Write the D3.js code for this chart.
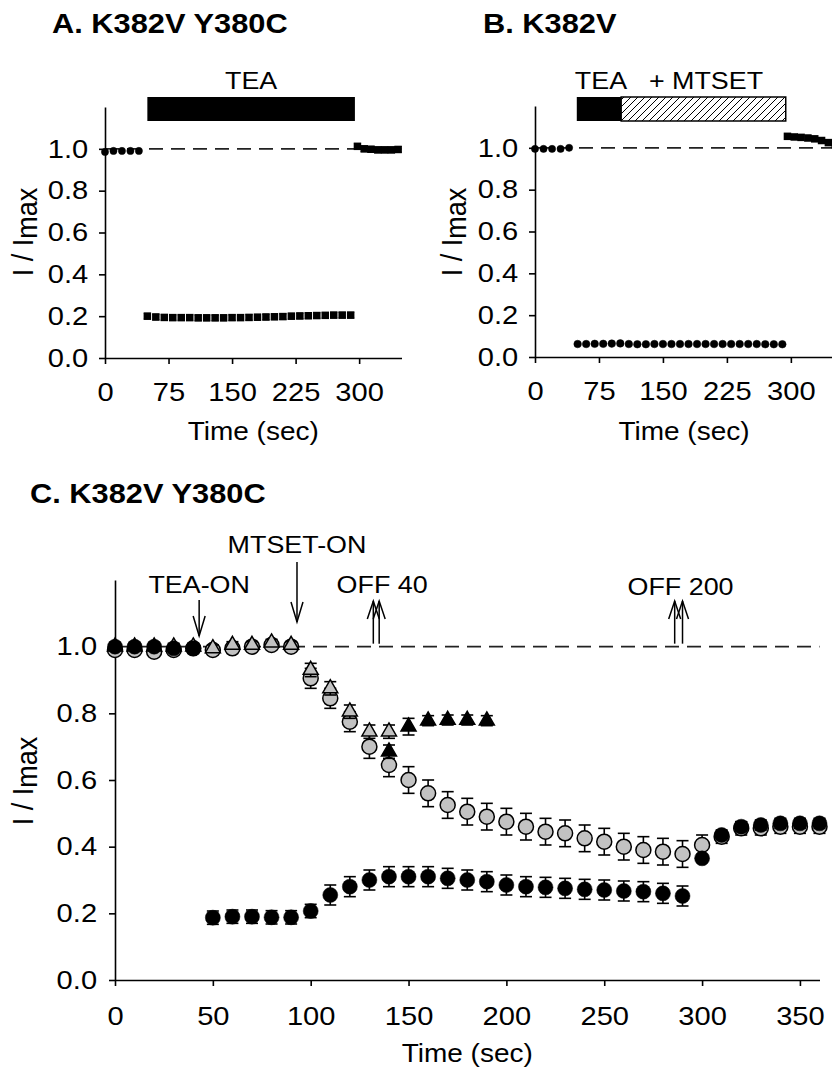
<!DOCTYPE html>
<html>
<head>
<meta charset="utf-8">
<script src="https://cdn.jsdelivr.net/npm/d3@7"></script>
<style>
  body { margin: 0; background: #fff; }
  text { font-family: "Liberation Sans", Arial, sans-serif; fill: #000; }
</style>
</head>
<body>
<div id="chart"></div>
<script>
// ---- Panel A : K382V Y380C, TEA block ----
const timeA_pre = [0, 10, 20, 30, 40];
const valA_pre = [0.985, 0.99, 0.99, 0.99, 0.99];
const timeA_tea = [50, 60, 70, 80, 90, 100, 110, 120, 130, 140, 150, 160, 170, 180, 190, 200, 210, 220, 230, 240, 250, 260, 270, 280, 290];
const valA_tea = [0.20, 0.196, 0.194, 0.193, 0.193, 0.193, 0.192, 0.192, 0.192, 0.192, 0.193, 0.193, 0.194, 0.195, 0.196, 0.197, 0.198, 0.20, 0.201, 0.202, 0.203, 0.204, 0.205, 0.205, 0.205];
const timeA_post = [298, 306, 314, 322, 330, 338, 346];
const valA_post = [1.012, 1.0, 0.998, 0.995, 0.995, 0.995, 0.997];
const barA = { start: 50, end: 295, label: "TEA" };

// ---- Panel B : K382V, TEA then TEA + MTSET ----
const timeB_pre = [0, 10, 20, 30, 40];
const valB_pre = [0.995, 0.995, 0.995, 0.995, 1.0];
const timeB_mid = [50, 60, 70, 80, 90, 100, 110, 120, 130, 140, 150, 160, 170, 180, 190, 200, 210, 220, 230, 240, 250, 260, 270, 280, 290];
const valB_mid = [0.062, 0.062, 0.063, 0.063, 0.064, 0.065, 0.062, 0.061, 0.061, 0.062, 0.062, 0.062, 0.062, 0.062, 0.062, 0.062, 0.062, 0.062, 0.062, 0.062, 0.062, 0.062, 0.061, 0.061, 0.061];
const timeB_post = [296, 304, 312, 320, 328, 336, 344, 352];
const valB_post = [1.055, 1.052, 1.05, 1.047, 1.043, 1.035, 1.025, 1.015];
const barB = { teaStart: 49, mtsetStart: 101, end: 294 };

// ---- Panel C : K382V Y380C, MTSET protocol ----
const timeC = [0, 10, 20, 30, 40, 50, 60, 70, 80, 90, 100, 110, 120, 130, 140, 150, 160, 170, 180, 190, 200, 210, 220, 230, 240, 250, 260, 270, 280, 290, 300, 310, 320, 330, 340, 350, 360];
const grayCircle = [0.99, 0.99, 0.985, 0.99, 0.995, 0.99, 0.995, 1.0, 1.005, 1.0, 0.905, 0.845, 0.775, 0.70, 0.645, 0.60, 0.56, 0.525, 0.505, 0.49, 0.475, 0.46, 0.445, 0.44, 0.425, 0.415, 0.40, 0.39, 0.385, 0.378, 0.405, 0.43, 0.455, 0.455, 0.46, 0.46, 0.46];
const grayCircleErr = [0.01, 0.01, 0.01, 0.01, 0.01, 0.01, 0.01, 0.01, 0.01, 0.01, 0.03, 0.03, 0.03, 0.035, 0.035, 0.04, 0.04, 0.04, 0.04, 0.04, 0.04, 0.04, 0.04, 0.04, 0.04, 0.04, 0.04, 0.04, 0.04, 0.04, 0.03, 0.02, 0.02, 0.02, 0.02, 0.02, 0.02];
const blackCircle = [1.0, 1.0, 1.0, 0.995, 0.995, 0.187, 0.19, 0.19, 0.188, 0.188, 0.207, 0.255, 0.28, 0.30, 0.31, 0.31, 0.31, 0.305, 0.30, 0.295, 0.285, 0.28, 0.278, 0.275, 0.272, 0.27, 0.267, 0.265, 0.26, 0.252, 0.365, 0.435, 0.46, 0.465, 0.47, 0.47, 0.47];
const blackCircleErr = [0.01, 0.01, 0.01, 0.01, 0.01, 0.02, 0.02, 0.02, 0.02, 0.02, 0.02, 0.03, 0.03, 0.03, 0.03, 0.03, 0.03, 0.03, 0.03, 0.03, 0.03, 0.03, 0.03, 0.03, 0.03, 0.03, 0.03, 0.03, 0.03, 0.03, 0.01, 0.01, 0.015, 0.015, 0.015, 0.015, 0.015];
const timeTriGray = [0, 10, 20, 30, 40, 50, 60, 70, 80, 90, 100, 110, 120, 130, 140];
const grayTri = [1.0, 1.0, 1.0, 1.0, 1.0, 0.995, 1.005, 1.005, 1.012, 1.005, 0.93, 0.875, 0.805, 0.745, 0.745];
const grayTriErr = [0.01, 0.01, 0.01, 0.01, 0.01, 0.01, 0.01, 0.01, 0.01, 0.01, 0.02, 0.02, 0.02, 0.02, 0.02];
const timeTriBlack = [140, 150, 160, 170, 180, 190];
const blackTri = [0.685, 0.76, 0.778, 0.78, 0.78, 0.778];
const blackTriErr = [0.02, 0.025, 0.015, 0.015, 0.015, 0.015];
const notes = [
  { t: 43, label: "TEA-ON", dir: "down", arrows: [43] },
  { t: 93, label: "MTSET-ON", dir: "down", arrows: [93] },
  { t: 136.5, label: "OFF 40", dir: "up", arrows: [132, 135] },
  { t: 289, label: "OFF 200", dir: "up", arrows: [286, 290] }
];

const yTicks = [0, 0.2, 0.4, 0.6, 0.8, 1.0];
const xTicksAB = [0, 75, 150, 225, 300];
const xTicksC = [0, 50, 100, 150, 200, 250, 300, 350];

const SX = 1.12;   // figure text is a little wide
const GRAY = "#c2c2c2";

const svg = d3.select("#chart").append("svg")
  .attr("width", 832)
  .attr("height", 1070);

const defs = svg.append("defs");
const hatch = defs.append("pattern")
  .attr("id", "hatch")
  .attr("patternUnits", "userSpaceOnUse")
  .attr("width", 7)
  .attr("height", 7);
hatch.append("rect").attr("width", 7).attr("height", 7).attr("fill", "#fff");
hatch.append("path")
  .attr("d", "M-1,1 l2,-2 M0,7 l7,-7 M6,8 l2,-2")
  .attr("stroke", "#000")
  .attr("stroke-width", 1);

function label(x, y, str, size, anchor, weight) {
  return svg.append("text")
    .attr("transform", `translate(${x},${y}) scale(${SX},1)`)
    .attr("text-anchor", anchor || "middle")
    .attr("font-size", size)
    .attr("font-weight", weight || "normal")
    .text(str);
}

function yTitle(x, y) {
  const t = svg.append("text")
    .attr("transform", `translate(${x},${y}) scale(${SX},1) rotate(-90)`)
    .attr("text-anchor", "middle")
    .attr("font-size", 27);
  t.append("tspan").text("I / I");
  t.append("tspan").attr("dy", 4).text("max");
}

function drawAxes(x, y, xTicks, xPad, yPad) {
  const ax = svg.append("g")
    .attr("transform", `translate(0,${y.range()[0]})`)
    .call(d3.axisBottom(x).tickValues(xTicks).tickSize(6).tickSizeOuter(0).tickPadding(xPad));
  const ay = svg.append("g")
    .attr("transform", `translate(${x.range()[0]},0)`)
    .call(d3.axisLeft(y).tickValues(yTicks).tickFormat(d3.format(".1f")).tickSize(6).tickSizeOuter(0).tickPadding(yPad));
  [ax, ay].forEach(a => {
    a.attr("font-size", null).attr("font-family", null);
    a.selectAll("path, line").attr("stroke", "#000").attr("stroke-width", 1.6);
    a.selectAll("text")
      .attr("font-size", 26)
      .attr("fill", "#000")
      .attr("transform", `scale(${SX},1)`);
  });
}

function dashedOne(x, y, t0, t1) {
  svg.append("line")
    .attr("x1", x(t0)).attr("x2", x(t1))
    .attr("y1", y(1)).attr("y2", y(1))
    .attr("stroke", "#222")
    .attr("stroke-width", 1.6)
    .attr("stroke-dasharray", "14,8");
}

function errorBars(x, y, times, vals, errs, half, width) {
  const g = svg.append("g").attr("stroke", "#000").attr("stroke-width", width);
  times.forEach((t, i) => {
    const cx = x(t), top = y(vals[i] + errs[i]), bot = y(vals[i] - errs[i]);
    g.append("line").attr("x1", cx).attr("x2", cx).attr("y1", top).attr("y2", bot);
    g.append("line").attr("x1", cx - half).attr("x2", cx + half).attr("y1", top).attr("y2", top);
    g.append("line").attr("x1", cx - half).attr("x2", cx + half).attr("y1", bot).attr("y2", bot);
  });
}

function dots(x, y, times, vals, r, fill) {
  svg.append("g").selectAll("circle")
    .data(times)
    .enter()
    .append("circle")
    .attr("cx", d => x(d))
    .attr("cy", (d, i) => y(vals[i]))
    .attr("r", r)
    .attr("fill", fill)
    .attr("stroke", "#000")
    .attr("stroke-width", fill === "#000" ? 0.5 : 1.5);
}

function squares(x, y, times, vals, s) {
  svg.append("g").selectAll("rect")
    .data(times)
    .enter()
    .append("rect")
    .attr("x", d => x(d) - s / 2)
    .attr("y", (d, i) => y(vals[i]) - s / 2)
    .attr("width", s)
    .attr("height", s)
    .attr("fill", "#000");
}

function triangles(x, y, times, vals, fill) {
  const tri = "M0,-8.7 L7.5,4.3 L-7.5,4.3 Z";
  svg.append("g").selectAll("path")
    .data(times)
    .enter()
    .append("path")
    .attr("d", tri)
    .attr("transform", (d, i) => `translate(${x(d)},${y(vals[i])})`)
    .attr("fill", fill)
    .attr("stroke", "#000")
    .attr("stroke-width", 1.5);
}

// ================= Panel A =================
const xA = d3.scaleLinear().domain([0, 350]).range([105, 401.5]);
const yA = d3.scaleLinear().domain([0, 1.2]).range([358, 107]);

label(52, 33, "A. K382V Y380C", 27.5, "start", "bold");
svg.append("rect")
  .attr("x", xA(barA.start)).attr("y", 97)
  .attr("width", xA(barA.end) - xA(barA.start)).attr("height", 24)
  .attr("fill", "#000");
label((xA(barA.start) + xA(barA.end)) / 2, 89, barA.label, 24);

dashedOne(xA, yA, 0, 350);
drawAxes(xA, yA, xTicksAB, 19, 9);
yTitle(33, 232);
label((xA.range()[0] + xA.range()[1]) / 2, 440, "Time (sec)", 25);

dots(xA, yA, timeA_pre, valA_pre, 3.6, "#000");
errorBars(xA, yA, timeA_tea, valA_tea, valA_tea.map(() => 0.013), 3.5, 1.2);
squares(xA, yA, timeA_tea, valA_tea, 7.5);
errorBars(xA, yA, timeA_post, valA_post, valA_post.map(() => 0.013), 3.5, 1.2);
squares(xA, yA, timeA_post, valA_post, 7.5);

// ================= Panel B =================
const xB = d3.scaleLinear().domain([0, 350]).range([535, 833.5]);
const yB = d3.scaleLinear().domain([0, 1.2]).range([357, 106]);

label(483, 33, "B. K382V", 27.5, "start", "bold");
svg.append("rect")
  .attr("x", xB(barB.mtsetStart)).attr("y", 97)
  .attr("width", xB(barB.end) - xB(barB.mtsetStart)).attr("height", 24)
  .attr("fill", "url(#hatch)")
  .attr("stroke", "#000").attr("stroke-width", 1.5);
svg.append("rect")
  .attr("x", xB(barB.teaStart)).attr("y", 97)
  .attr("width", xB(barB.mtsetStart) - xB(barB.teaStart)).attr("height", 24)
  .attr("fill", "#000");
label(601, 89, "TEA", 24);
label(706, 89, "+ MTSET", 24);

dashedOne(xB, yB, 0, 350);
drawAxes(xB, yB, xTicksAB, 19, 9);
yTitle(462, 232);
label(684, 440, "Time (sec)", 25);

dots(xB, yB, timeB_pre, valB_pre, 3.6, "#000");
dots(xB, yB, timeB_mid, valB_mid, 3.8, "#000");
squares(xB, yB, timeB_post, valB_post, 7.5);

// ================= Panel C =================
const xC = d3.scaleLinear().domain([0, 360]).range([115, 819.5]);
const yC = d3.scaleLinear().domain([0, 1.2]).range([980, 580]);

label(30, 503, "C. K382V Y380C", 27.5, "start", "bold");

dashedOne(xC, yC, 0, 360);
drawAxes(xC, yC, xTicksC, 21, 10);
yTitle(33, 781);
label((xC.range()[0] + xC.range()[1]) / 2, 1062, "Time (sec)", 25);

// annotations: labels and arrows
notes.forEach(n => {
  const base = n.label === "MTSET-ON" ? 553 : (n.label === "OFF 200" ? 595 : 593);
  label(xC(n.t), base, n.label, 24);
  n.arrows.forEach(t => {
    const ax = xC(t);
    const g = svg.append("g").attr("stroke", "#000").attr("stroke-width", 1.5).attr("fill", "none");
    if (n.dir === "down") {
      const top = n.label === "MTSET-ON" ? 562 : 600;
      const tip = n.label === "MTSET-ON" ? 622 : 636;
      g.append("line").attr("x1", ax).attr("x2", ax).attr("y1", top).attr("y2", tip);
      g.append("path").attr("d", `M${ax - 6},${tip - 20} L${ax},${tip} L${ax + 6},${tip - 20}`);
    } else {
      const tip = 601;
      const bot = yC(1) - 3;
      g.append("line").attr("x1", ax).attr("x2", ax).attr("y1", tip).attr("y2", bot);
      g.append("path").attr("d", `M${ax - 6},${tip + 18} L${ax},${tip} L${ax + 6},${tip + 18}`);
    }
  });
});

errorBars(xC, yC, timeC, grayCircle, grayCircleErr, 6, 1.6);
dots(xC, yC, timeC, grayCircle, 7.5, GRAY);
errorBars(xC, yC, timeTriGray, grayTri, grayTriErr, 6, 1.6);
triangles(xC, yC, timeTriGray, grayTri, GRAY);
errorBars(xC, yC, timeTriBlack, blackTri, blackTriErr, 6, 1.6);
triangles(xC, yC, timeTriBlack, blackTri, "#000");
errorBars(xC, yC, timeC, blackCircle, blackCircleErr, 6, 1.6);
dots(xC, yC, timeC, blackCircle, 7.5, "#000");
</script>
</body>
</html>
